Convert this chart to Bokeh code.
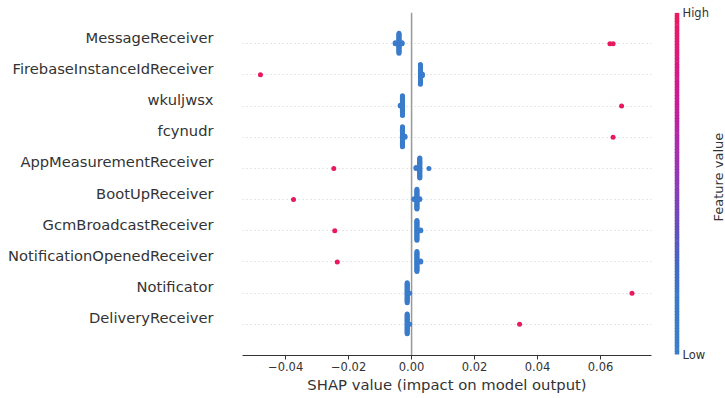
import numpy as np
from bokeh.plotting import figure
from bokeh.models import Range1d, FixedTicker, Span, LinearAxis, Grid
from bokeh.layouts import row
from bokeh.core.properties import value
from bokeh.embed import file_html
from bokeh.resources import INLINE

# ---------------- data ----------------
features = ["MessageReceiver", "FirebaseInstanceIdReceiver", "wkuljwsx", "fcynudr",
            "AppMeasurementReceiver", "BootUpReceiver", "GcmBroadcastReceiver",
            "NotificationOpenedReceiver", "Notificator", "DeliveryReceiver"]

# SHAP values of samples with low feature value (value, how many samples)
low_shap_values = [
    [-0.0052, -0.0040, -0.0030],
    [0.0028, 0.0034],
    [-0.0036, -0.0029],
    [-0.0029, -0.0021],
    [0.0014, 0.0026, 0.0055],
    [0.0008, 0.0017, 0.0026],
    [0.0017, 0.0029],
    [0.0017, 0.0029],
    [-0.0014, -0.0006],
    [-0.0014, -0.0006],
]
low_shap_counts = [
    [2, 24, 2],
    [24, 3],
    [2, 24],
    [24, 2],
    [2, 24, 1],
    [2, 24, 2],
    [24, 2],
    [24, 2],
    [24, 1],
    [24, 1],
]
# SHAP values of samples with high feature value
high_shap_values = [
    [0.0630, 0.0640],
    [-0.0480],
    [0.0667],
    [0.0640],
    [-0.0247],
    [-0.0375],
    [-0.0244],
    [-0.0236],
    [0.0700],
    [0.0343],
]
x_ticks = [-0.04, -0.02, 0.0, 0.02, 0.04, 0.06]
x_tick_labels = ["\u22120.04", "\u22120.02", "0.00", "0.02", "0.04", "0.06"]
colorbar_ticks = [0, 1]
colorbar_labels = ["Low", "High"]
colorbar_title = "Feature value"

# ---------------- styling ----------------
FONT = "DejaVu Sans"
TXT = "#333333"
BLUE = "#3a7ccb"
RED = "#e8195e"
grad_stops = [0.0, 0.16, 0.25, 0.36, 0.48, 0.60, 0.74, 0.89, 1.0]
grad_cols = ["#3a7ec8", "#3a7ac8", "#3f6cc6", "#6050c0", "#8a3db8",
             "#a82fb0", "#c81c9a", "#de1a78", "#ec1a5e"]


def swarm_offsets(shaps, row_height=0.4, nbins=100):
    shaps = np.asarray(shaps, float)
    quant = np.round(nbins * (shaps - shaps.min()) / (shaps.max() - shaps.min() + 1e-8))
    inds = np.argsort(quant, kind="stable")
    layer = 0
    last_bin = -1
    ys = np.zeros(len(shaps))
    for ind in inds:
        if quant[ind] != last_bin:
            layer = 0
        ys[ind] = np.ceil(layer / 2) * ((layer % 2) * 2 - 1)
        layer += 1
        last_bin = quant[ind]
    ys *= 0.9 * (row_height / np.max(ys + 1))
    return ys


n = len(features)
rows = [n - 1 - i for i in range(n)]

lx, ly, hx, hy = [], [], [], []
for i in range(n):
    lows = np.repeat(low_shap_values[i], low_shap_counts[i])
    highs = np.asarray(high_shap_values[i], float)
    allv = np.concatenate([lows, highs])
    offs = swarm_offsets(allv)
    r = rows[i]
    lx += list(lows)
    ly += list(r + offs[:len(lows)])
    hx += list(highs)
    hy += list(r + offs[len(lows):])

LABEL_SHIFT = 0.21  # tick labels sit slightly above their row (matplotlib center_baseline)

p = figure(width=654, height=398, x_range=Range1d(-0.0537, 0.0762), y_range=Range1d(-1, n),
           output_backend="svg", toolbar_location=None, title=None, y_axis_location=None,
           min_border_left=242, min_border_right=3, min_border_top=12, min_border_bottom=43)
p.outline_line_color = None
p.background_fill_color = "white"
p.extra_y_ranges = {"lab": Range1d(-1 - LABEL_SHIFT, n - LABEL_SHIFT)}

p.xgrid.visible = False
p.ygrid.visible = False
g = Grid(dimension=1, ticker=FixedTicker(ticks=rows), grid_line_color="#cccccc",
         grid_line_dash="1 3", grid_line_width=1)
p.add_layout(g, "center")

zero = Span(location=0, dimension="height", line_color="#999999", line_width=1.5, level="underlay")
p.add_layout(zero)

p.scatter(lx, ly, size=5, fill_color=BLUE, line_color=None)
p.scatter(hx, hy, size=5, fill_color=RED, line_color=None)

xa = p.xaxis[0]
xa.ticker = FixedTicker(ticks=x_ticks)
xa.major_label_overrides = {t: s for t, s in zip(x_ticks, x_tick_labels)}
xa.axis_label = "SHAP value (impact on model output)"
xa.axis_label_text_font = FONT
xa.axis_label_text_font_size = "14.8px"
xa.axis_label_text_font_style = "normal"
xa.axis_label_text_color = TXT
xa.axis_label_standoff = 2
xa.major_label_text_font = FONT
xa.major_label_text_font_size = "11.5px"
xa.major_label_text_color = TXT
xa.major_label_standoff = 2
xa.major_tick_out = 4
xa.major_tick_in = 0
xa.minor_tick_line_color = None
xa.axis_line_color = TXT
xa.major_tick_line_color = TXT

ya = LinearAxis(y_range_name="lab", ticker=FixedTicker(ticks=rows))
ya.major_label_overrides = {r: f for r, f in zip(rows, features)}
ya.major_label_text_font = FONT
ya.major_label_text_font_size = "14.7px"
ya.major_label_text_color = TXT
ya.major_label_standoff = 29
ya.major_tick_out = 0
ya.major_tick_in = 0
ya.major_tick_line_color = None
ya.minor_tick_line_color = None
ya.axis_line_color = None
p.add_layout(ya, "left")

# ---------------- colour bar ----------------
# frame of this figure is the bar itself (its top/bottom are aligned with the main plot frame)
cb = figure(width=57, height=398, x_range=Range1d(0, 1), y_range=Range1d(-0.00293, 1.00293),
            output_backend="svg", toolbar_location=None, title=None,
            min_border_left=20, min_border_right=32, min_border_top=12, min_border_bottom=43,
            x_axis_location=None, y_axis_location="right")
cb.outline_line_color = None
cb.xgrid.visible = False
cb.ygrid.visible = False

N = 120
pos = np.linspace(0, 1, N + 1)
mid = (pos[:-1] + pos[1:]) / 2


def hex2rgb(h):
    return np.array([int(h[k:k + 2], 16) for k in (1, 3, 5)], float)


stops_rgb = np.array([hex2rgb(c) for c in grad_cols])
cols = []
for m in mid:
    rgb = [np.interp(m, grad_stops, stops_rgb[:, k]) for k in range(3)]
    cols.append("#%02x%02x%02x" % tuple(int(round(v)) for v in rgb))

cb.quad(left=0, right=1, bottom=pos[:-1], top=pos[1:] + 0.002, fill_color=cols, line_color=None)

ca = cb.yaxis[0]
ca.ticker = FixedTicker(ticks=colorbar_ticks)
ca.major_label_overrides = {t: s for t, s in zip(colorbar_ticks, colorbar_labels)}
ca.major_label_text_font = FONT
ca.major_label_text_font_size = "11.5px"
ca.major_label_text_color = TXT
ca.major_label_standoff = 3
ca.major_tick_out = 0
ca.major_tick_in = 0
ca.major_tick_line_color = None
ca.minor_tick_line_color = None
ca.axis_line_color = None

# strip holding the colour-bar title, read bottom to top
fvf = figure(width=14, height=398, x_range=Range1d(0, 1), y_range=Range1d(0, 1),
             output_backend="svg", toolbar_location=None, title=None, min_border=0,
             x_axis_location=None, y_axis_location=None)
fvf.outline_line_color = None
fvf.xgrid.visible = False
fvf.ygrid.visible = False
fvf.text(x=[0.5], y=[0.52], text=[colorbar_title], angle=np.pi / 2, text_font=value(FONT),
         text_font_size=value("13px"), text_line_height=1.0, text_color=TXT,
         text_align="center", text_baseline="middle")

layout = row(p, cb, fvf)
open("out.html", "w").write(file_html(layout, INLINE))
